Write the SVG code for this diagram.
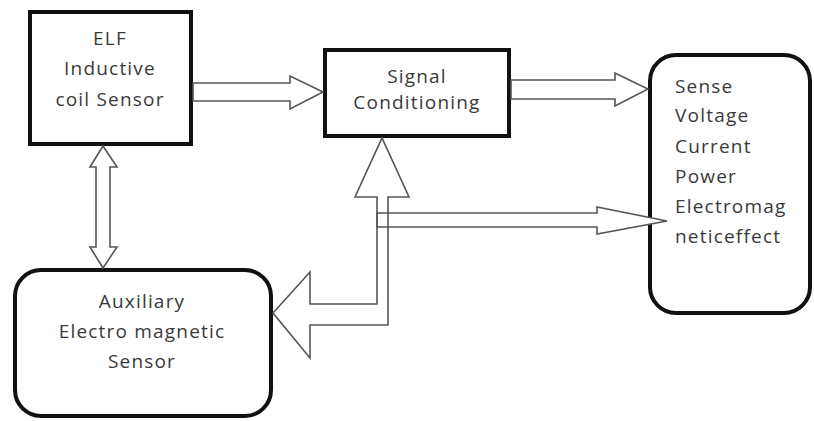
<svg xmlns="http://www.w3.org/2000/svg" width="814" height="421" viewBox="0 0 814 421">
<style>
.box{fill:#fff;stroke:#111;stroke-width:4}
.t{font-family:"Open Sans","DejaVu Sans",sans-serif;font-size:19px;fill:#3a3a3a;letter-spacing:1.2px}
.c{text-anchor:middle}
.arr{fill:#fff;stroke:#555;stroke-width:1.6;stroke-linejoin:miter}
</style>
<rect width="814" height="421" fill="#fff"/>
<g id="elf">
<rect class="box" x="30" y="12" width="161" height="132"/>
<text class="t c" x="110" y="45">ELF</text>
<text class="t c" x="110" y="75">Inductive</text>
<text class="t c" x="110" y="106">coil Sensor</text>
</g>
<g id="signal">
<rect class="box" x="325" y="50" width="184" height="86"/>
<text class="t c" x="417" y="83">Signal</text>
<text class="t c" x="417" y="109">Conditioning</text>
</g>
<g id="sense">
<rect class="box" x="650" y="55" width="160" height="258" rx="26" ry="26"/>
<text class="t" x="675" y="93">Sense</text>
<text class="t" x="675" y="122">Voltage</text>
<text class="t" x="675" y="153">Current</text>
<text class="t" x="675" y="183">Power</text>
<text class="t" x="675" y="213">Electromag</text>
<text class="t" x="675" y="243">neticeffect</text>
</g>
<g id="aux">
<rect class="box" x="15" y="270" width="256" height="146" rx="26" ry="26"/>
<text class="t c" x="142" y="308">Auxiliary</text>
<text class="t c" x="142" y="338">Electro magnetic</text>
<text class="t c" x="142" y="368">Sensor</text>
</g>
<g id="connectors">
<polygon class="arr" points="193,83 290,83 290,76 323,92 290,109 290,101 193,101"/>
<polygon class="arr" points="511,80 615,80 615,73 648,89 615,106 615,99 511,99"/>
<polygon class="arr" points="103,146 117,167 110,167 110,247 117,247 103,268 90,247 96,247 96,167 90,167"/>
<polygon class="arr" points="377,213 597,213 597,207 667,221 597,234 597,227 377,227"/>
<path class="arr" style="fill:none" d="M377,197 L377,304 L310,304 L310,272 L273,313 L310,358 L310,325 L388,325 L388,197 L409,197 L382,138 L355,197 Z"/>
</g>
</svg>
